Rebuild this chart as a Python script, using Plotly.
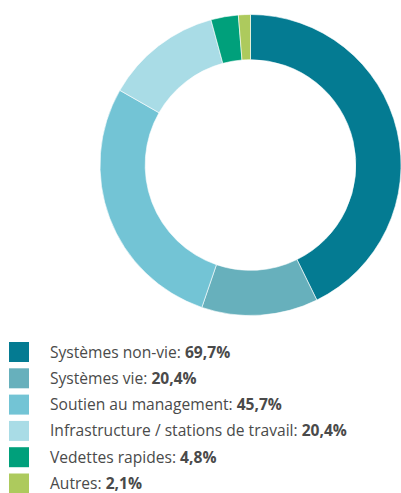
import plotly.graph_objects as go

labels = ["Systèmes non-vie", "Systèmes vie", "Soutien au management",
          "Infrastructure / stations de travail", "Vedettes rapides", "Autres"]
values = [69.7, 20.4, 45.7, 20.4, 4.8, 2.1]
value_labels = ["69,7%", "20,4%", "45,7%", "20,4%", "4,8%", "2,1%"]
colors = ["#047b92", "#67b0bc", "#73c4d5", "#a9dce6", "#00a07b", "#adca5d"]

W, H = 401, 493

fig = go.Figure()
fig.add_trace(go.Pie(
    labels=labels, values=values, sort=False, direction="clockwise", rotation=0,
    hole=0.70, textinfo="none", hoverinfo="label+value",
    marker=dict(colors=colors, line=dict(color="white", width=0.6)),
    domain=dict(x=[100 / W, 1.0], y=[1 - 316 / H, 1 - 14 / H]),
    showlegend=False,
))

shapes = []
annotations = []
row0 = 352
step = 26.3
for i, (lab, val, col) in enumerate(zip(labels, value_labels, colors)):
    yc = row0 + i * step
    shapes.append(dict(type="rect", xref="paper", yref="paper",
                       x0=9 / W, x1=29 / W, y0=1 - (yc + 10) / H, y1=1 - (yc - 10) / H,
                       fillcolor=col, line=dict(width=0)))
    annotations.append(dict(xref="paper", yref="paper", x=48 / W, y=1 - (yc - 0.5) / H,
                            xanchor="left", yanchor="middle", showarrow=False,
                            text=f"{lab}: <b>{val}</b>",
                            font=dict(family="Open Sans", size=15.6, color="#4a4a4a")))

fig.update_layout(width=W, height=H, margin=dict(l=0, r=0, t=0, b=0),
                  paper_bgcolor="white", plot_bgcolor="white",
                  shapes=shapes, annotations=annotations)
fig.write_html("out.html", config={"displayModeBar": False},
               post_script="document.body.style.margin='0';document.body.style.overflow='hidden';")
